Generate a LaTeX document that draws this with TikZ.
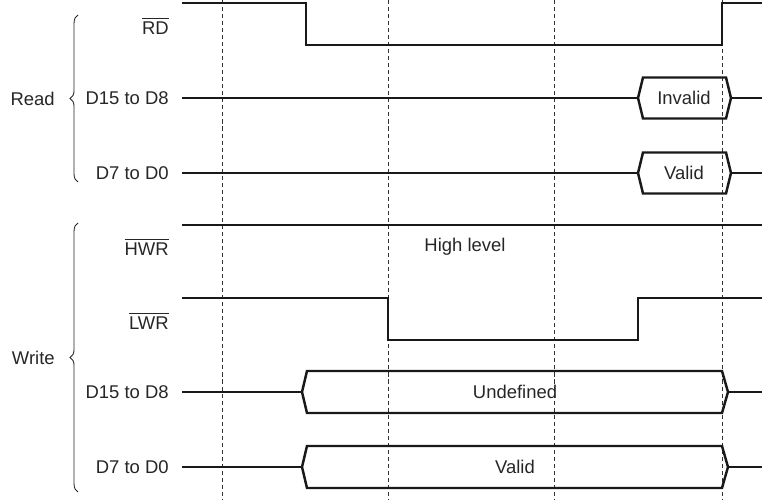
\documentclass[tikz,border=0pt]{standalone}
\usepackage{amsmath}
\usepackage{fontspec}
\setmainfont{Liberation Sans}
\usepackage{tikz}
\usetikzlibrary{decorations.pathreplacing}
\tikzset{
  sig/.style={draw=black!90,line width=1.4pt,line join=miter},
  guide/.style={draw=black!80,line width=0.55pt,dash pattern=on 2.3pt off 1.7pt},
  lbl/.style={anchor=east,inner sep=0pt,text=black!85,font=\fontsize{10.5}{12}\selectfont},
  txt/.style={inner sep=0pt,text=black!85,font=\fontsize{10.5}{12}\selectfont},
  grp/.style={decorate,decoration={brace,amplitude=4.5pt},draw=black!85,line width=0.5pt}
}

\begin{document}
\begin{tikzpicture}[x=0.02cm,y=-0.02cm]
  \useasboundingbox (0,0) rectangle (769,500);
  % time markers
  \foreach \x in {222,388,554,722}{
    \draw[guide] (\x,0) -- (\x,500);
  }
  % signal names
  \node[lbl] (rd)   at (169,26)  {\(\overline{\text{RD}}\)};
  \node[lbl] (rhi)  at (169,98)  {D15 to D8};
  \node[lbl] (rlo)  at (169,173) {D7 to D0};
  \node[lbl] (hwr)  at (169,247) {\(\overline{\text{HWR}}\)};
  \node[lbl] (lwr)  at (169,321) {\(\overline{\text{LWR}}\)};
  \node[lbl] (whi)  at (169,392) {D15 to D8};
  \node[lbl] (wlo)  at (169,467) {D7 to D0};
  \node[lbl] (read)  at (55,99)  {Read};
  \node[lbl] (write) at (55,358) {Write};
  \draw[grp] (78,182) -- (78,15);
  \draw[grp] (78,492) -- (78,223);
  % read cycle
  \draw[sig] (182,3) -- (306,3) -- (306,45) -- (722,45) -- (722,3) -- (762,3);
  \foreach \y/\t in {98/Invalid,173/Valid}{
    \draw[sig] (182,\y) -- (638,\y);
    \draw[sig] (638,\y) -- (643,\y-20.5) -- (726,\y-20.5) -- (731,\y)
      -- (726,\y+20.5) -- (643,\y+20.5) -- cycle;
    \draw[sig] (731,\y) -- (762,\y);
    \node[txt] at (684,\y) {\t};
  }
  % write cycle
  \draw[sig] (182,225) -- (762,225);
  \node[txt] (hlev) at (465,247) {High level};
  \draw[sig] (182,298) -- (388,298) -- (388,340) -- (638,340) -- (638,298) -- (762,298);
  \foreach \y/\t in {392/Undefined,467/Valid}{
    \draw[sig] (182,\y) -- (302,\y);
    \draw[sig] (302,\y) -- (307,\y-21) -- (722,\y-21) -- (728,\y)
      -- (722,\y+21) -- (307,\y+21) -- cycle;
    \draw[sig] (728,\y) -- (762,\y);
    \node[txt] at (515,\y) {\t};
  }
\end{tikzpicture}
\end{document}
